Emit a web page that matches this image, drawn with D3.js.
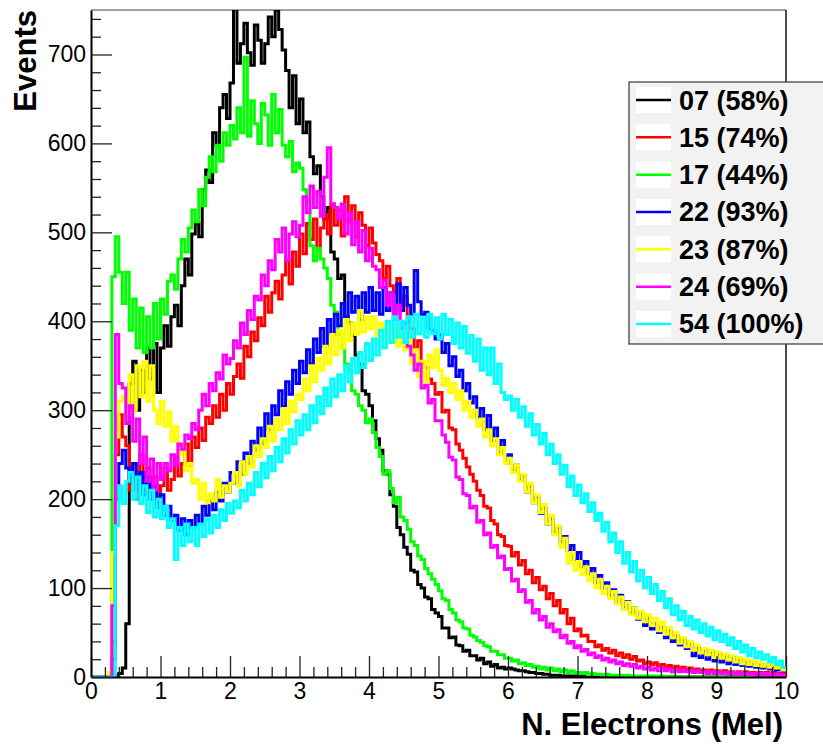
<!DOCTYPE html>
<html>
<head>
<meta charset="utf-8">
<script src="https://cdnjs.cloudflare.com/ajax/libs/d3/7.8.5/d3.min.js"></script>
<style>
body { margin: 0; background: #fff; }
text { font-family: "Liberation Sans", Arial, Helvetica, sans-serif; }
</style>
</head>
<body>
<div id="chart"></div>
<script>
// histogram bins: 200 bins of 0.05 Mel from 0 to 10, one row per Mel
var binWidth = 0.05;

var s07 = [
    0,0,0,0,0,0,0,2,4,10,60,330,355,300,345,320,370,335,375,320,
    370,395,372,405,418,395,440,470,452,498,510,495,548,570,556,612,598,640,655,628,
    668,752,690,712,735,702,688,733,716,690,712,742,720,750,728,705,682,640,676,622,
    650,612,624,585,566,575,540,515,528,478,470,448,452,405,398,384,362,352,322,318,
    305,288,268,255,232,228,205,192,168,160,146,138,120,118,104,100,90,88,76,72,
    68,55,55,44,45,36,35,29,30,24,24,19,21,15,17,12,14,10,11,9,
    10,9,8,7,7,6,5,5,4,4,3,3,2,2,2,1,1,1,1,1,
    0,1,0,0,0,0,0,0,0,0,0,0,0,0,0,0,0,0,0,0,
    0,0,0,0,0,0,0,0,0,0,0,0,0,0,0,0,0,0,0,0,
    0,0,0,0,0,0,0,0,0,0,0,0,0,0,0,0,0,0,0,0
];
var s15 = [
    0,0,0,0,0,0,40,250,295,270,260,210,240,200,250,205,235,200,225,195,
    215,235,210,222,248,226,240,262,238,270,258,280,266,292,285,305,292,318,300,330,
    318,338,352,336,372,360,388,378,404,395,428,410,432,445,425,452,468,442,478,462,
    498,476,510,492,515,482,505,520,498,532,508,525,496,540,512,530,495,522,508,485,
    505,488,475,468,448,462,440,432,448,418,428,400,392,368,378,352,348,335,330,318,
    320,298,300,280,278,262,255,246,236,228,220,210,204,192,190,176,172,160,158,148,
    147,136,140,126,131,116,120,106,112,98,102,88,94,80,86,72,76,60,66,52,
    54,46,47,40,40,34,36,30,32,27,30,24,27,22,25,20,23,18,19,15,
    17,14,16,12,14,11,13,10,12,9,11,8,10,7,9,7,8,6,8,6,
    7,5,7,5,6,4,6,4,6,4,5,4,5,3,5,3,5,3,4,4
];
var s17 = [
    0,0,0,0,0,0,450,495,455,420,455,390,425,370,415,365,405,370,420,380,
    425,408,445,452,436,470,492,478,505,525,512,548,530,562,585,568,598,580,612,598,
    620,605,640,612,697,608,648,622,600,645,632,598,655,612,638,598,585,602,568,578,
    572,548,535,485,468,482,470,460,448,418,410,385,372,352,345,322,318,305,300,286,
    290,275,258,248,228,232,212,196,202,180,176,166,152,148,136,132,122,116,110,104,
    97,88,86,76,72,64,62,55,54,47,45,41,39,35,34,29,29,25,25,21,
    21,18,19,15,16,13,14,11,12,9,11,8,10,7,9,6,8,5,7,5,
    5,4,5,3,4,3,3,2,3,2,2,2,2,1,2,1,1,1,1,1,
    1,1,1,0,1,0,0,1,0,0,0,0,0,0,0,0,0,0,0,0,
    0,0,0,0,0,0,0,0,0,0,0,0,0,0,0,0,0,0,0,0
];
var s22 = [
    0,0,0,0,0,0,20,200,240,255,235,220,240,210,230,205,225,200,215,190,
    205,182,192,176,182,165,178,160,176,168,182,172,192,182,198,188,208,198,218,208,
    230,218,242,228,252,240,265,255,280,262,296,278,305,295,322,304,332,318,345,330,
    355,342,368,352,380,365,392,372,402,385,408,395,420,405,432,410,428,402,432,410,
    438,412,432,408,438,412,432,402,442,412,438,418,408,457,422,408,410,392,390,380,
    385,365,375,350,360,338,345,322,330,308,315,292,302,278,294,266,280,252,266,240,
    250,232,238,222,226,208,214,196,202,184,190,172,178,162,168,152,158,142,148,132,
    140,124,130,116,122,106,114,100,106,92,98,84,92,78,85,72,78,65,72,58,
    66,54,60,50,56,44,52,40,46,36,42,32,38,24,33,22,30,20,28,18,
    26,17,24,15,22,14,20,13,18,12,17,11,15,10,14,9,13,8,12,7
];
var s23 = [
    0,0,0,0,0,5,140,270,310,315,295,340,300,350,315,355,310,350,300,285,
    310,282,298,265,282,250,262,232,240,218,222,200,218,196,206,198,222,202,215,208,
    218,230,215,242,228,248,236,260,248,268,258,282,265,290,278,302,285,310,298,318,
    312,335,322,350,332,358,345,372,352,385,362,390,370,402,378,398,385,412,388,405,
    392,405,380,398,372,392,378,402,372,392,368,385,352,368,338,355,332,362,348,368,
    345,328,336,320,330,312,322,300,310,292,300,282,290,270,278,260,268,250,258,240,
    246,230,238,220,228,208,218,196,205,185,194,172,182,160,170,146,156,128,140,120,
    130,115,124,108,116,100,110,94,102,88,96,82,90,76,84,70,78,66,74,62,
    70,58,66,52,62,48,56,44,50,38,44,34,40,30,36,27,32,25,30,22,
    28,21,26,19,24,17,22,15,20,14,18,13,17,12,15,11,14,10,12,8
];
var s24 = [
    0,0,0,0,0,0,80,385,330,325,285,305,265,290,240,270,220,245,210,240,
    222,240,232,250,238,262,256,272,268,285,278,300,318,305,330,322,342,335,362,352,
    358,378,370,398,385,412,402,428,424,452,440,468,458,492,478,505,468,498,512,495,
    508,540,522,552,528,546,518,562,595,532,528,515,532,498,522,486,512,478,502,468,
    482,462,458,438,446,418,432,402,418,392,398,372,362,345,352,325,328,308,312,288,
    288,272,264,247,244,225,222,206,204,190,192,174,176,160,162,146,148,134,136,121,
    122,108,110,96,98,84,86,72,76,64,68,56,60,51,53,44,47,38,40,33,
    35,29,31,25,27,22,24,19,21,17,19,15,17,13,15,12,14,10,12,9,
    11,8,10,7,10,7,9,6,8,6,8,6,7,5,7,5,6,4,6,4,
    6,4,5,3,5,3,5,3,4,3,4,2,4,2,4,2,3,2,3,2
];
var s54 = [
    0,0,0,0,0,0,0,170,215,195,220,230,200,225,195,215,185,210,180,200,
    178,192,168,178,132,168,148,172,152,168,148,172,158,178,162,182,168,188,176,195,
    184,198,190,210,198,218,205,230,214,240,224,248,232,258,242,268,252,278,262,288,
    272,295,278,305,286,315,296,325,305,335,315,340,322,350,332,358,342,365,348,375,
    356,380,362,390,370,400,376,405,382,400,376,405,382,408,386,404,382,408,386,404,
    380,408,385,402,375,398,370,394,364,384,355,380,345,370,340,370,330,352,320,312,
    316,300,312,292,304,282,296,272,284,262,274,250,262,240,250,228,238,214,226,204,
    216,196,206,186,196,176,184,164,174,152,162,140,152,128,140,118,130,108,120,100,
    112,94,104,86,96,78,88,70,80,64,74,58,68,54,64,50,60,46,56,42,
    52,40,48,36,44,32,40,28,36,24,32,22,28,20,25,17,22,14,18,11
];

var seriesNames = ["07 (58%)", "15 (74%)", "17 (44%)", "22 (93%)", "23 (87%)", "24 (69%)", "54 (100%)"];
var seriesColors = ["#000000", "#ff0000", "#00ff00", "#0000ff", "#ffff00", "#ff00ff", "#00ffff"];
var seriesValues = [s07, s15, s17, s22, s23, s24, s54];

var xTicks = [0, 1, 2, 3, 4, 5, 6, 7, 8, 9, 10];
var yTicks = [0, 100, 200, 300, 400, 500, 600, 700];
var xTitle = "N. Electrons (Mel)";
var yTitle = "Events";

var width = 823, height = 745;
var frame = {left: 91, right: 786, top: 10, bottom: 677};

var svg = d3.select("#chart").append("svg")
    .attr("width", width)
    .attr("height", height);

var x = d3.scaleLinear().domain([0, 10]).range([frame.left, frame.right]);
var y = d3.scaleLinear().domain([0, 750]).range([frame.bottom, frame.top]);

// frame top and right edges
svg.append("line")
    .attr("x1", frame.left).attr("x2", frame.right)
    .attr("y1", frame.top).attr("y2", frame.top)
    .attr("stroke", "#444").attr("stroke-width", 1.2);
svg.append("line")
    .attr("x1", frame.right).attr("x2", frame.right)
    .attr("y1", frame.top).attr("y2", frame.bottom)
    .attr("stroke", "#111").attr("stroke-width", 1.5);

svg.append("clipPath").attr("id", "plotclip")
    .append("rect")
    .attr("x", frame.left).attr("y", frame.top)
    .attr("width", frame.right - frame.left)
    .attr("height", frame.bottom - frame.top);

// histograms as steps, drawn in legend order
var line = d3.line()
    .x(function(d) { return x(d[0]); })
    .y(function(d) { return y(d[1]); })
    .curve(d3.curveStepAfter);

var hists = svg.append("g").attr("clip-path", "url(#plotclip)");
seriesValues.forEach(function(vals, k) {
    var pts = vals.map(function(v, i) { return [i * binWidth, v]; });
    pts.push([10, vals[vals.length - 1]]);
    hists.append("path")
        .datum(pts)
        .attr("d", line)
        .attr("fill", "none")
        .attr("stroke", seriesColors[k])
        .attr("stroke-width", 3)
        .attr("stroke-linejoin", "miter");
});

// x axis: major and minor ticks pointing up into the frame
var minorX = d3.range(0, 10.001, 0.2).filter(function(v) { return Math.abs(v - Math.round(v)) > 1e-6; });
var xMinor = svg.append("g")
    .attr("transform", "translate(0," + frame.bottom + ")")
    .call(d3.axisBottom(x).tickValues(minorX).tickSize(-10).tickFormat(""));
var xAxis = svg.append("g")
    .attr("transform", "translate(0," + frame.bottom + ")")
    .call(d3.axisBottom(x).tickValues(xTicks).tickSizeInner(-21).tickSizeOuter(0).tickPadding(6).tickFormat(d3.format("d")));

var minorY = d3.range(0, 750, 20).filter(function(v) { return v % 100 !== 0; });
var yMinor = svg.append("g")
    .attr("transform", "translate(" + frame.left + ",0)")
    .call(d3.axisLeft(y).tickValues(minorY).tickSize(-10).tickFormat(""));
var yAxis = svg.append("g")
    .attr("transform", "translate(" + frame.left + ",0)")
    .call(d3.axisLeft(y).tickValues(yTicks).tickSizeInner(-21).tickSizeOuter(0).tickPadding(5).tickFormat(d3.format("d")));

[xMinor, yMinor].forEach(function(g) { g.select(".domain").remove(); });
[xMinor, xAxis, yMinor, yAxis].forEach(function(g) {
    g.selectAll(".tick line").attr("stroke", "#222").attr("stroke-width", 1.3);
});
[xAxis, yAxis].forEach(function(g) {
    g.select(".domain").attr("stroke", "#000").attr("stroke-width", 2);
    g.selectAll(".tick text")
        .attr("fill", "#000")
        .style("font-size", "23px")
        .style("font-family", "'Liberation Sans', Arial, sans-serif");
});

// axis titles
svg.append("text")
    .attr("x", 783).attr("y", 735)
    .attr("text-anchor", "end")
    .style("font-size", "31px").style("font-weight", "bold")
    .text(xTitle);
svg.append("text")
    .attr("transform", "translate(36," + frame.top + ") rotate(-90)")
    .attr("text-anchor", "end")
    .style("font-size", "31px").style("font-weight", "bold")
    .text(yTitle);

// legend
var legend = svg.append("g");
legend.append("rect")
    .attr("x", 629).attr("y", 82)
    .attr("width", 210).attr("height", 262)
    .attr("fill", "#f2f2f2")
    .attr("stroke", "#444").attr("stroke-width", 1.3);

var entries = legend.selectAll("g.entry")
    .data(seriesNames)
    .enter().append("g")
    .attr("class", "entry")
    .attr("transform", function(d, i) { return "translate(0," + (100 + i * 37.33) + ")"; });
entries.append("rect")
    .attr("x", 636).attr("y", -13)
    .attr("width", 35).attr("height", 26)
    .attr("fill", "#fff");
entries.append("line")
    .attr("x1", 636).attr("x2", 671)
    .attr("stroke", function(d, i) { return seriesColors[i]; })
    .attr("stroke-width", 2.5);
entries.append("text")
    .attr("x", 679).attr("y", 9.5)
    .style("font-size", "27px").style("font-weight", "bold")
    .text(function(d) { return d; });
</script>
</body>
</html>
